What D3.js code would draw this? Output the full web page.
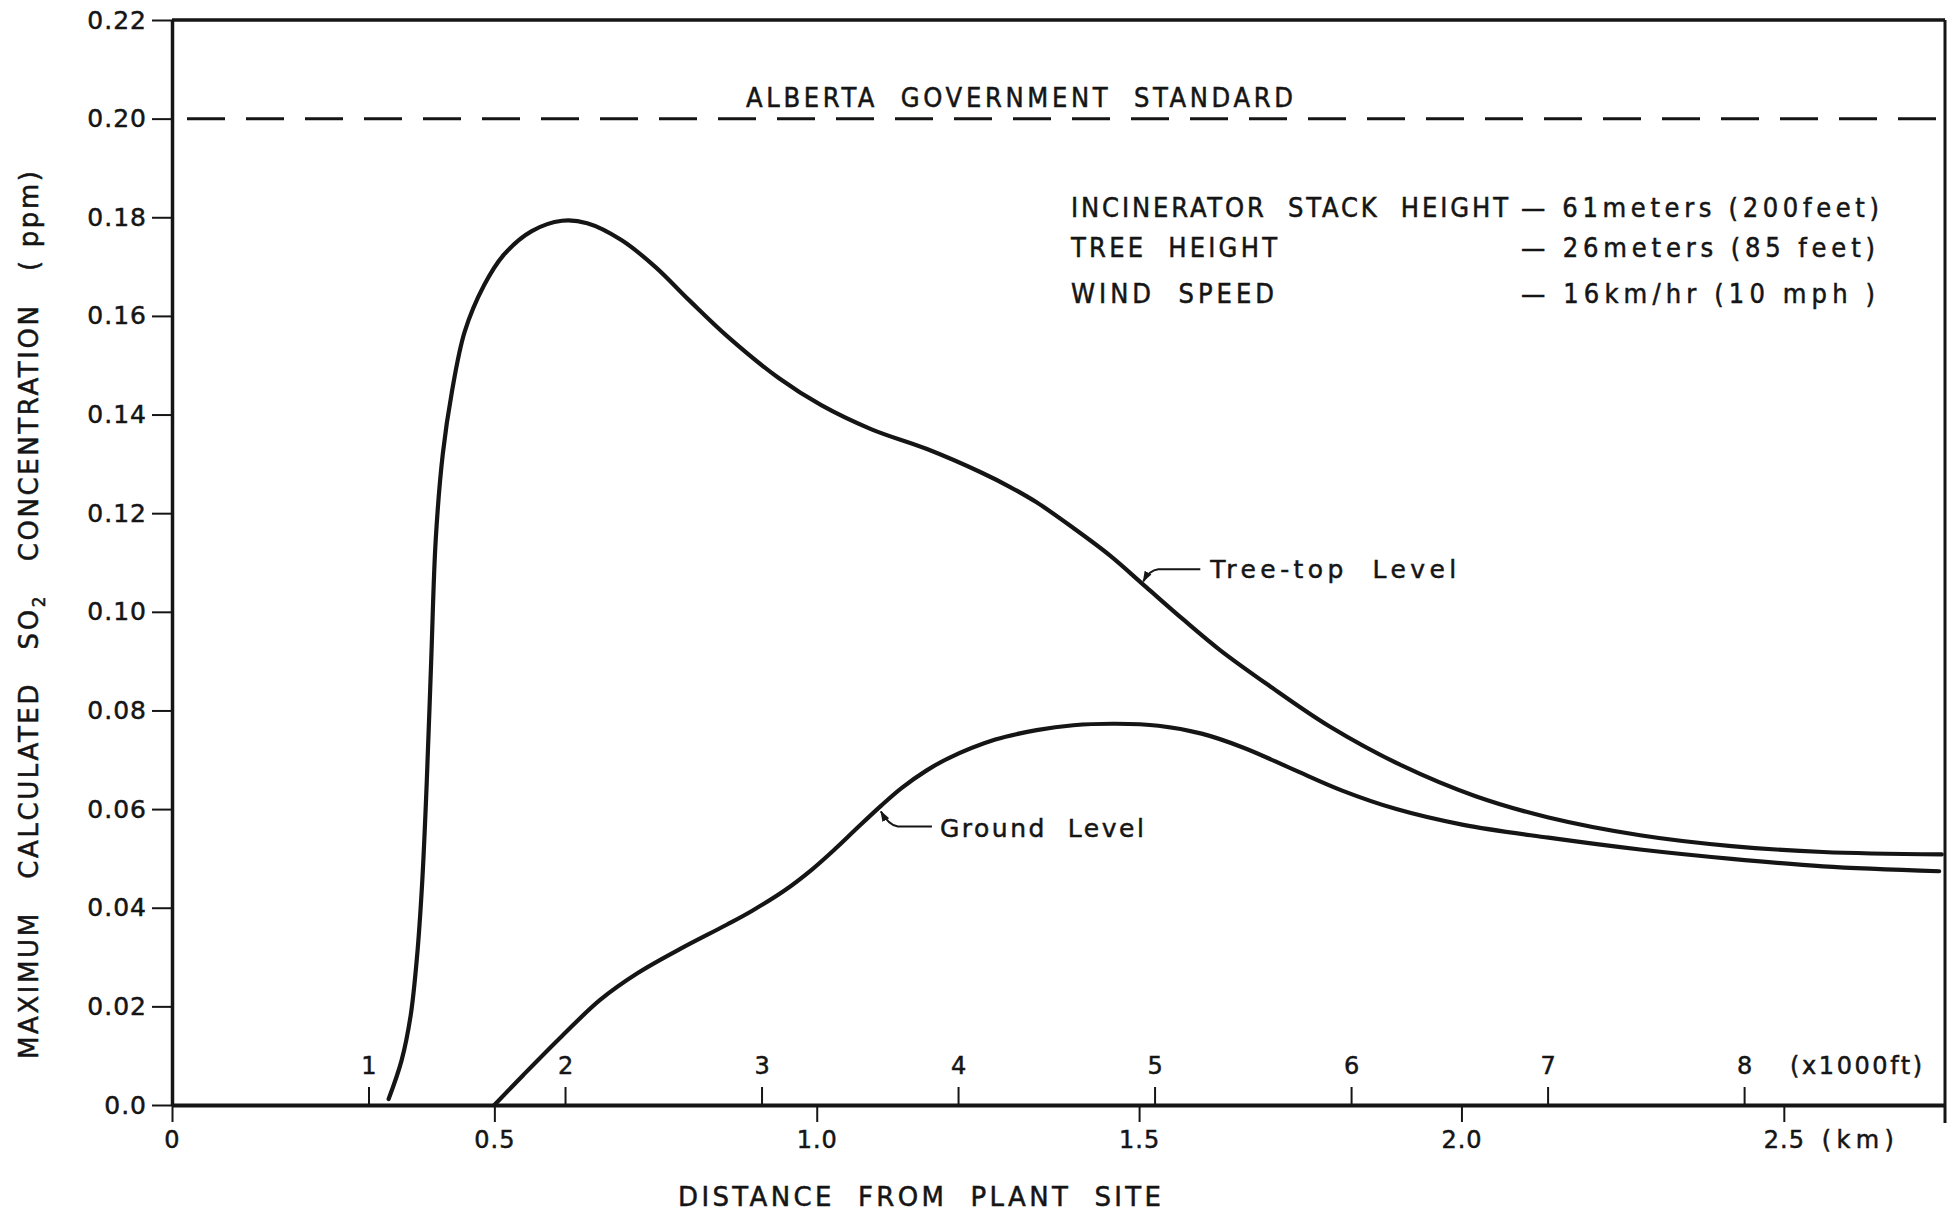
<!DOCTYPE html>
<html><head><meta charset="utf-8">
<script src="https://cdn.jsdelivr.net/npm/d3@7"></script>
<style>
body{margin:0;background:#fff;}
svg{display:block;}
text{font-family:"DejaVu Sans",sans-serif;fill:#151515;white-space:pre;stroke:#151515;stroke-width:0.5px;}
.cond{font-family:"DejaVu Sans Condensed","DejaVu Sans",sans-serif;}
</style></head><body>
<svg id="chart" width="1957" height="1213"></svg>
<script>
// ---------- data ----------
const treeTopDistanceKm = [0.336,0.356,0.370,0.380,0.388,0.395,0.402,0.409,0.420,0.434,0.454,0.484,0.514,0.558,0.605,0.644,0.697,0.750,0.802,0.861,0.941,1.007,1.085,1.171,1.256,1.300,1.341,1.398,1.455,1.511,1.568,1.625,1.701,1.795,1.908,2.022,2.135,2.277,2.419,2.561,2.745];
const treeTopPpm = [0.0012,0.009,0.018,0.030,0.045,0.065,0.090,0.1145,0.1320,0.1445,0.1568,0.1662,0.1723,0.1772,0.1793,0.1788,0.1754,0.1699,0.1632,0.1559,0.1474,0.1419,0.1370,0.1330,0.1282,0.1253,0.1222,0.1170,0.1114,0.1050,0.0985,0.0923,0.0851,0.0768,0.0688,0.0626,0.0583,0.0547,0.0525,0.0513,0.0508];
const groundDistanceKm = [0.500,0.545,0.605,0.664,0.723,0.789,0.861,0.900,0.950,0.993,1.030,1.059,1.100,1.132,1.170,1.204,1.277,1.341,1.398,1.464,1.530,1.597,1.663,1.738,1.814,1.899,2.003,2.135,2.277,2.419,2.561,2.741];
const groundPpm = [0.0,0.0061,0.0140,0.0213,0.0268,0.0317,0.0366,0.0394,0.0435,0.0478,0.0521,0.0557,0.0607,0.0643,0.0678,0.0703,0.0741,0.0760,0.0770,0.0773,0.0769,0.0753,0.0724,0.0681,0.0638,0.0600,0.0568,0.0542,0.0518,0.0499,0.0484,0.0474];

const yTickValues = [0,0.02,0.04,0.06,0.08,0.10,0.12,0.14,0.16,0.18,0.20,0.22];
const yTickLabels = ["0.0","0.02","0.04","0.06","0.08","0.10","0.12","0.14","0.16","0.18","0.20","0.22"];
const kmTickValues = [0,0.5,1.0,1.5,2.0,2.5];
const kmTickLabels = ["0","0.5","1.0","1.5","2.0","2.5"];
const ftTickValues = [1,2,3,4,5,6,7,8];           // thousands of feet
const ftTickLabels = ["1","2","3","4","5","6","7","8"];
const standardPpm = 0.20;
const standardLabel = "ALBERTA  GOVERNMENT  STANDARD";
const legendLeft = ["INCINERATOR  STACK  HEIGHT","TREE  HEIGHT","WIND  SPEED"];
const legendRight = ["— 61meters (200feet)","— 26meters (85 feet)","— 16km/hr (10 mph )"];
const treeTopLabel = "Tree-top  Level";
const groundLabel = "Ground  Level";
const treeTopArrowAt = [1.505, 0.106];
const groundArrowAt = [1.098, 0.0597];
const kmMaxDomain = 2.75;
const ppmMaxDomain = 0.22;
const kmPerThousandFt = 0.3048;

// ---------- layout ----------
const L = 172, R = 1945, T = 20, B = 1105;
const svg = d3.select("#chart");
svg.append("rect").attr("width",1957).attr("height",1213).attr("fill","#fff");

const defs = svg.append("defs");
defs.append("marker").attr("id","arrow").attr("viewBox","0 0 10 10")
  .attr("refX",9).attr("refY",5).attr("markerWidth",11).attr("markerHeight",11)
  .attr("markerUnits","userSpaceOnUse").attr("orient","auto")
  .append("path").attr("d","M0,1.5 L10,5 L0,8.5 z").attr("fill","#151515");

const x = d3.scaleLinear().domain([0, kmMaxDomain]).range([L, R]);
const xFt = d3.scaleLinear().domain([0, kmMaxDomain / kmPerThousandFt]).range([L, R]);
const y = d3.scaleLinear().domain([0, ppmMaxDomain]).range([B, T]);

const ink = "#151515";

// frame: top and right
svg.append("line").attr("x1",x(0)).attr("x2",x(kmMaxDomain)).attr("y1",y(ppmMaxDomain)).attr("y2",y(ppmMaxDomain))
  .attr("stroke",ink).attr("stroke-width",3.5);
svg.append("line").attr("x1",x(kmMaxDomain)).attr("x2",x(kmMaxDomain)).attr("y1",y(ppmMaxDomain)).attr("y2",y(0)+18)
  .attr("stroke",ink).attr("stroke-width",3);

// y axis
const gy = svg.append("g").attr("transform",`translate(${x(0)},0)`)
  .call(d3.axisLeft(y).tickValues(yTickValues).tickFormat((d,i)=>yTickLabels[i])
    .tickSize(20).tickSizeOuter(0).tickPadding(5));
gy.attr("font-family",'"DejaVu Sans", sans-serif').attr("font-size",25);
gy.select(".domain").attr("stroke",ink).attr("stroke-width",3.5);
gy.selectAll(".tick line").attr("stroke",ink).attr("stroke-width",2);
gy.selectAll(".tick text").attr("fill",ink).attr("letter-spacing",1);

// x axis (km) below
const gx = svg.append("g").attr("transform",`translate(0,${y(0)})`)
  .call(d3.axisBottom(x).tickValues(kmTickValues).tickFormat((d,i)=>kmTickLabels[i])
    .tickSize(17).tickSizeOuter(0).tickPadding(9));
gx.attr("font-family",'"DejaVu Sans", sans-serif').attr("font-size",24);
gx.select(".domain").attr("stroke",ink).attr("stroke-width",4);
gx.selectAll(".tick line").attr("stroke",ink).attr("stroke-width",2);
gx.selectAll(".tick text").attr("fill",ink).attr("letter-spacing",1);

// feet axis above the baseline
const gf = svg.append("g").attr("transform",`translate(0,${y(0)})`)
  .call(d3.axisTop(xFt).tickValues(ftTickValues).tickFormat((d,i)=>ftTickLabels[i])
    .tickSize(18).tickSizeOuter(0).tickPadding(13));
gf.attr("font-family",'"DejaVu Sans", sans-serif').attr("font-size",24);
gf.select(".domain").remove();
gf.selectAll(".tick line").attr("stroke",ink).attr("stroke-width",2);
gf.selectAll(".tick text").attr("fill",ink);

svg.append("text").attr("x",xFt(8)+46).attr("y",y(0)-31).attr("font-size",24)
  .attr("textLength",132).attr("lengthAdjust","spacing").text("(x1000ft)");
svg.append("text").attr("x",x(2.5)+38).attr("y",y(0)+43).attr("font-size",24)
  .attr("textLength",72).attr("lengthAdjust","spacing").text("(km)");

// standard line
svg.append("line").attr("x1",x(0)+15).attr("x2",x(kmMaxDomain)).attr("y1",y(standardPpm)).attr("y2",y(standardPpm))
  .attr("stroke",ink).attr("stroke-width",3).attr("stroke-dasharray","38,21");
svg.append("text").attr("class","cond").attr("x",746).attr("y",y(standardPpm)-12).attr("font-size",27)
  .attr("textLength",547).attr("lengthAdjust","spacing").text(standardLabel);

// legend block
const legendRowsY = [217, 257, 303];
const leftWidths = [437, 206, 203];
const rightWidths = [358, 354, 354];
legendLeft.forEach((t,i)=>{
  svg.append("text").attr("class","cond").attr("x",1071).attr("y",legendRowsY[i]).attr("font-size",27)
    .attr("textLength",leftWidths[i]).attr("lengthAdjust","spacing").text(t);
  svg.append("text").attr("class","cond").attr("x",1521).attr("y",legendRowsY[i]).attr("font-size",27)
    .attr("textLength",rightWidths[i]).attr("lengthAdjust","spacing").text(legendRight[i]);
});

// curves
const line = d3.line().x(d=>x(d[0])).y(d=>y(d[1])).curve(d3.curveCatmullRom.alpha(0.5));
const treeData = treeTopDistanceKm.map((d,i)=>[d, treeTopPpm[i]]);
const groundData = groundDistanceKm.map((d,i)=>[d, groundPpm[i]]);
svg.append("path").datum(treeData).attr("d",line).attr("fill","none").attr("stroke",ink)
  .attr("stroke-width",4.2).attr("stroke-linecap","round").attr("stroke-linejoin","round");
svg.append("path").datum(groundData).attr("d",line).attr("fill","none").attr("stroke",ink)
  .attr("stroke-width",4.2).attr("stroke-linecap","round").attr("stroke-linejoin","round");

// annotations
{
  const tx = x(treeTopArrowAt[0]), ty = y(treeTopArrowAt[1]);
  svg.append("path").attr("d",`M${tx+58},${ty-13} L${tx+16},${ty-13} Q${tx+7},${ty-12} ${tx+1},${ty-1}`)
    .attr("fill","none").attr("stroke",ink).attr("stroke-width",2).attr("marker-end","url(#arrow)");
  svg.append("text").attr("x",tx+68).attr("y",ty-4).attr("font-size",25)
    .attr("textLength",246).attr("lengthAdjust","spacing").text(treeTopLabel);
}
{
  const tx = x(groundArrowAt[0]), ty = y(groundArrowAt[1]);
  svg.append("path").attr("d",`M${tx+52},${ty+16} L${tx+18},${ty+16} Q${tx+9},${ty+15} ${tx+1},${ty+1}`)
    .attr("fill","none").attr("stroke",ink).attr("stroke-width",2).attr("marker-end","url(#arrow)");
  svg.append("text").attr("x",tx+60).attr("y",ty+26).attr("font-size",25)
    .attr("textLength",204).attr("lengthAdjust","spacing").text(groundLabel);
}

// axis titles
svg.append("text").attr("x",678).attr("y",1206).attr("font-size",26)
  .attr("textLength",483).attr("lengthAdjust","spacing").text("DISTANCE  FROM  PLANT  SITE");

const yt = svg.append("text").attr("transform","translate(38,615) rotate(-90)")
  .attr("text-anchor","middle").attr("font-size",26)
  .attr("textLength",888).attr("lengthAdjust","spacing");
yt.append("tspan").text("MAXIMUM   CALCULATED   SO");
yt.append("tspan").attr("font-size",17).attr("dy",7).text("2");
yt.append("tspan").attr("dy",-7).text("   CONCENTRATION   ( ppm)");
</script>
</body></html>
